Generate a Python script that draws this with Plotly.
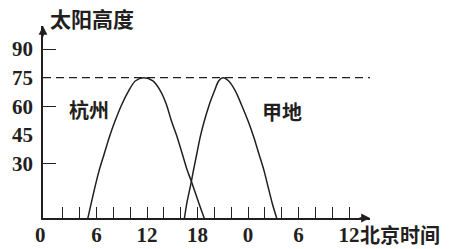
import plotly.graph_objects as go

# Data (hours on the Beijing-time axis, solar altitude in degrees)
hz_hours = [4.9, 5.8, 6.3, 6.9, 7.5, 8.2, 9.0, 9.8, 10.6, 11.6, 12.7, 13.6, 14.3, 14.9, 15.6, 16.2, 16.8, 17.2, 18.2, 18.9]
hz_alt = [0, 17.4, 26.2, 34.9, 43.6, 52.3, 61, 68, 73.3, 75, 73.3, 68, 61, 52.3, 43.6, 34.9, 26.2, 21.5, 8.7, 0]

jd_hours = [16.4, 16.7, 17.2, 17.5, 17.9, 18.3, 18.8, 19.4, 20.0, 20.5, 21.0, 21.7, 22.5, 23.2, 24.0, 24.7, 25.3, 25.9, 26.4, 26.9, 27.5]
jd_alt = [0, 8.7, 19.2, 26.2, 34.9, 43.6, 52.3, 61, 68, 73.3, 75, 73.3, 68, 61, 52.3, 43.6, 34.9, 26.2, 17.4, 8.7, 0]

max_alt = 75
x_tickvals = [6, 12, 18, 24, 30, 36]
x_ticktext = ["6", "12", "18", "0", "6", "12"]
x_minor = [2, 4, 6, 8, 10, 12, 14, 16, 18, 20, 22, 24, 26, 28, 30, 32, 34, 36]
y_tickvals = [30, 45, 60, 75, 90]
y_ticktext = ["30", "45", "60", "75", "90"]
y_minor = [30, 60, 90]

INK = "#231f20"
NUM_FONT = dict(family="Liberation Serif", size=21, color=INK, weight="bold")
CJK = "Noto Sans CJK SC"

fig = go.Figure()
fig.add_trace(go.Scatter(x=hz_hours, y=hz_alt, mode="lines",
                         line=dict(color=INK, width=1.5, shape="spline", smoothing=0.8),
                         showlegend=False, hoverinfo="skip"))
fig.add_trace(go.Scatter(x=jd_hours, y=jd_alt, mode="lines",
                         line=dict(color=INK, width=1.5, shape="spline", smoothing=0.8),
                         showlegend=False, hoverinfo="skip"))

# dashed max-altitude line
fig.add_shape(type="line", xref="paper", x0=0, x1=1, yref="y", y0=max_alt, y1=max_alt,
              line=dict(color=INK, width=1.3, dash="8px,5px"))

x_lo, x_hi = -0.356, 38.48
y_lo, y_hi = 1.5, 102.1

# axis arrows
fig.add_annotation(x=x_hi, y=y_lo, ax=-12, ay=0, showarrow=True, arrowhead=2, arrowsize=1.1,
                   arrowwidth=1.6, arrowcolor=INK, text="")
fig.add_annotation(x=x_lo, y=y_hi, ax=0, ay=12, showarrow=True, arrowhead=2, arrowsize=1.1,
                   arrowwidth=1.6, arrowcolor=INK, text="")

# labels
fig.add_annotation(x=x_lo, y=y_hi, xanchor="left", yanchor="middle", xshift=5, yshift=8,
                   text="太阳高度", showarrow=False, font=dict(family=CJK, size=21, color=INK, weight="bold"))
fig.add_annotation(x=x_hi, y=y_lo, xanchor="left", yanchor="middle", xshift=-11, yshift=-16,
                   text="北京时间", showarrow=False, borderpad=0,
                   font=dict(family=CJK, size=20, color=INK, weight="bold"))
fig.add_annotation(x=0, y=y_lo, xanchor="center", yanchor="middle", xshift=-6, yshift=-17,
                   text="0", showarrow=False, font=NUM_FONT)
fig.add_annotation(x=5.1, y=58.1, text="杭州", showarrow=False,
                   font=dict(family=CJK, size=20, color=INK, weight="bold"))
fig.add_annotation(x=28.0, y=57.1, text="甲地", showarrow=False,
                   font=dict(family=CJK, size=20, color=INK, weight="bold"))

fig.update_xaxes(range=[x_lo, x_hi], showgrid=False, zeroline=False, automargin=False,
                 showline=True, linecolor=INK, linewidth=1.6,
                 tickmode="array", tickvals=x_tickvals, ticktext=x_ticktext,
                 ticks="", tickfont=NUM_FONT, ticklabelstandoff=-3,
                 minor=dict(tickmode="array", tickvals=x_minor, ticks="inside",
                            ticklen=11, tickwidth=1.4, tickcolor=INK, showgrid=False))
fig.update_yaxes(range=[y_lo, y_hi], showgrid=False, zeroline=False, automargin=False,
                 showline=True, linecolor=INK, linewidth=1.6,
                 tickmode="array", tickvals=y_tickvals, ticktext=y_ticktext,
                 ticks="", tickfont=NUM_FONT, ticklabelstandoff=4,
                 minor=dict(tickmode="array", tickvals=y_minor, ticks="inside",
                            ticklen=13, tickwidth=1.4, tickcolor=INK, showgrid=False))

fig.update_layout(width=452, height=249, margin=dict(l=43, r=82, t=26, b=31),
                  plot_bgcolor="white", paper_bgcolor="white")

fig.write_html("out.html", config={"displayModeBar": False},
               post_script="document.body.style.margin='0px';")
